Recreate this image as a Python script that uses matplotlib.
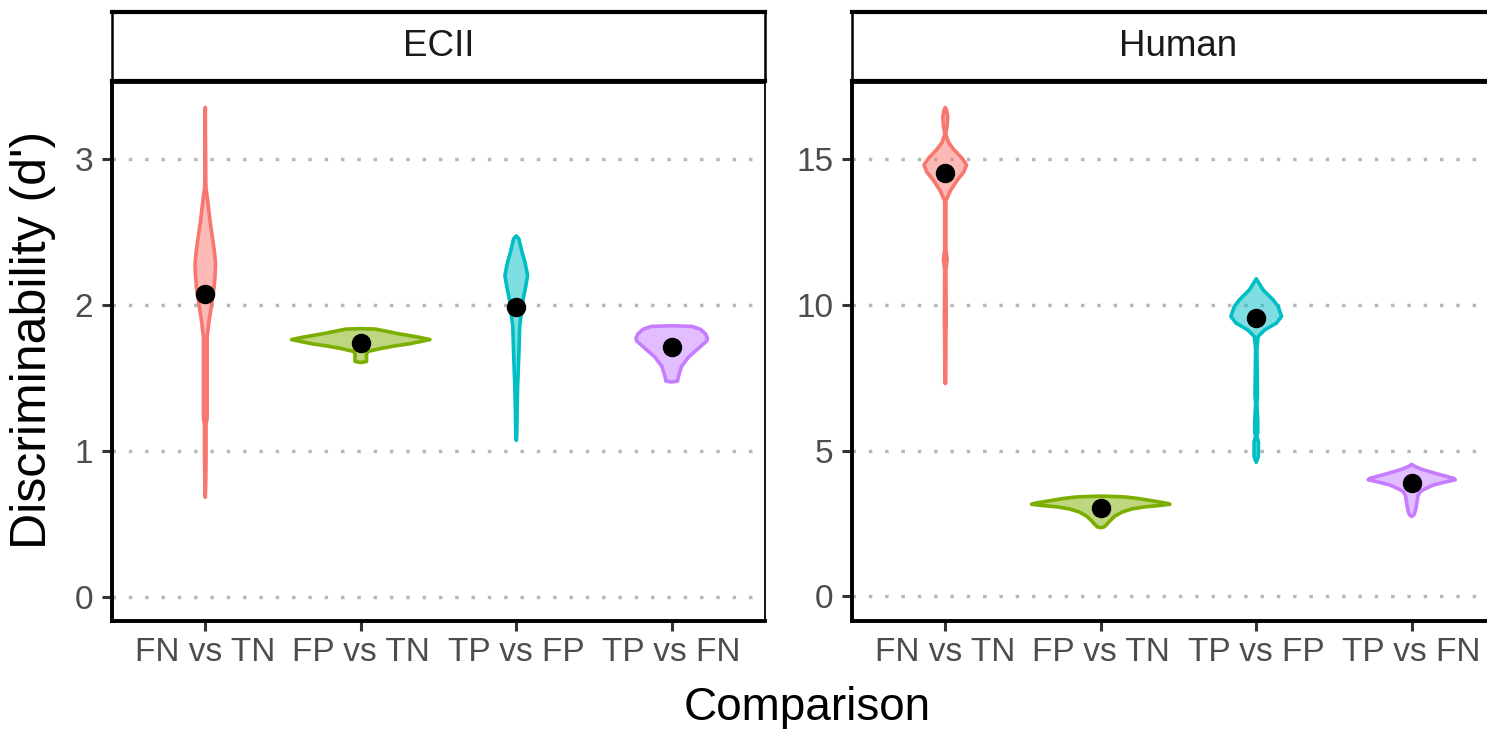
import matplotlib
matplotlib.use("Agg")
import matplotlib.pyplot as plt
import numpy as np

plt.rcParams["font.family"] = ["Liberation Sans", "DejaVu Sans"]

COMPARISONS = ["FN vs TN", "FP vs TN", "TP vs FP", "TP vs FN"]
COLORS = ["#F8766D", "#7CAE00", "#00BFC4", "#C77CFF"]
PANELS = ["ECII", "Human"]

# violin profiles: y values and half-widths (x units)
ecii_fn_y = [3.35, 2.86, 2.80, 2.74, 2.66, 2.56, 2.46, 2.36, 2.28, 2.20, 2.12,
             2.04, 1.96, 1.88, 1.82, 1.78, 1.50, 1.22, 1.18, 0.95, 0.78, 0.68]
ecii_fn_w = [0.0, 0.003, 0.004, 0.012, 0.021, 0.032, 0.046, 0.059, 0.066, 0.063,
             0.057, 0.046, 0.035, 0.023, 0.017, 0.012, 0.012, 0.012, 0.005,
             0.005, 0.003, 0.0]
ecii_fp_y = [1.835, 1.832, 1.80, 1.775, 1.76, 1.745, 1.73, 1.715, 1.70, 1.68,
             1.665, 1.61, 1.603]
ecii_fp_w = [0.0, 0.095, 0.243, 0.38, 0.445, 0.378, 0.307, 0.21, 0.133, 0.05,
             0.037, 0.037, 0.0]
ecii_tpfp_y = [2.47, 2.45, 2.36, 2.29, 2.20, 2.13, 2.03, 1.94, 1.85, 1.67,
               1.55, 1.44, 1.30, 1.09, 1.07]
ecii_tpfp_w = [0.0, 0.017, 0.037, 0.056, 0.073, 0.062, 0.043, 0.033, 0.022,
               0.017, 0.013, 0.009, 0.006, 0.003, 0.0]
ecii_tpfn_y = [1.855, 1.85, 1.83, 1.80, 1.77, 1.75, 1.70, 1.64, 1.575, 1.51,
               1.475, 1.47]
ecii_tpfn_w = [0.0, 0.133, 0.185, 0.217, 0.23, 0.225, 0.172, 0.108, 0.063,
               0.044, 0.037, 0.0]

human_fn_y = [16.76, 16.67, 16.43, 16.14, 15.85, 15.56, 15.32, 15.02, 14.79,
              14.55, 14.26, 13.91, 13.56, 11.9, 11.56, 11.2, 9.4, 9.0, 7.32, 7.3]
human_fn_w = [0.0, 0.008, 0.016, 0.012, 0.003, 0.021, 0.055, 0.108, 0.137,
              0.119, 0.076, 0.033, 0.004, 0.004, 0.012, 0.004, 0.006, 0.004,
              0.003, 0.0]
human_fp_y = [3.44, 3.43, 3.41, 3.36, 3.28, 3.20, 3.16, 3.12, 3.07, 3.00, 2.90,
              2.75, 2.60, 2.45, 2.38, 2.36]
human_fp_w = [0.0, 0.08, 0.16, 0.24, 0.33, 0.42, 0.445, 0.38, 0.28, 0.20, 0.14,
              0.09, 0.06, 0.035, 0.02, 0.0]
human_tpfp_y = [10.89, 10.51, 10.17, 9.94, 9.60, 9.37, 9.14, 8.91, 8.5, 6.9,
                6.6, 5.97, 5.63, 5.5, 5.3, 4.8, 4.6]
human_tpfp_w = [0.0, 0.044, 0.108, 0.141, 0.163, 0.13, 0.055, 0.012, 0.004,
                0.008, 0.004, 0.01, 0.01, 0.004, 0.014, 0.014, 0.0]
human_tpfn_y = [4.53, 4.45, 4.35, 4.27, 4.15, 4.05, 4.00, 3.93, 3.82, 3.70,
                3.60, 3.45, 3.31, 3.10, 2.97, 2.80, 2.74]
human_tpfn_w = [0.0, 0.023, 0.07, 0.12, 0.20, 0.27, 0.28, 0.22, 0.14, 0.09,
                0.055, 0.04, 0.036, 0.03, 0.025, 0.015, 0.0]

ecii_means = [2.07, 1.74, 1.98, 1.71]
human_means = [14.5, 3.02, 9.54, 3.88]

ecii_ticks = [0, 1, 2, 3]
human_ticks = [0, 5, 10, 15]
ecii_ylim = (-0.1675, 3.5175)
human_ylim = (-0.84, 17.6)

panel_data = [
    ([(ecii_fn_y, ecii_fn_w), (ecii_fp_y, ecii_fp_w),
      (ecii_tpfp_y, ecii_tpfp_w), (ecii_tpfn_y, ecii_tpfn_w)],
     ecii_means, ecii_ticks, ecii_ylim),
    ([(human_fn_y, human_fn_w), (human_fp_y, human_fp_w),
      (human_tpfp_y, human_tpfp_w), (human_tpfn_y, human_tpfn_w)],
     human_means, human_ticks, human_ylim),
]

W, H = 1487, 729
fig = plt.figure(figsize=(W / 100, H / 100), dpi=100)

panel_left = [112, 852]
pw = 653
for i, (violins, means, ticks, ylim) in enumerate(panel_data):
    x0 = panel_left[i] / W
    ax = fig.add_axes([x0, 1 - 621 / H, pw / W, (621 - 83) / H])
    for y in ticks:
        ax.axhline(y, color="#B8B8B8", lw=2.5, ls=(0, (1, 3.7)), zorder=0)
    for j, (vy, vw) in enumerate(violins):
        c = j + 1
        vy = np.array(vy)
        vw = np.array(vw)
        ax.fill_betweenx(vy, c - vw, c + vw, facecolor=COLORS[j], alpha=0.5,
                         lw=0, zorder=2)
        ax.fill_betweenx(vy, c - vw, c + vw, facecolor="none",
                         edgecolor=COLORS[j], lw=2.6, zorder=3)
    ax.plot(range(1, 5), means, "o", color="black", ms=13, zorder=4)
    ax.set_xlim(0.4, 4.6)
    ax.set_ylim(*ylim)
    ax.set_xticks(range(1, 5))
    ax.set_xticklabels(COMPARISONS)
    ax.set_yticks(ticks)
    ax.tick_params(axis="both", direction="out", length=7.5, width=2.2,
                   color="#333333", labelcolor="#4D4D4D", labelsize=24)
    ax.tick_params(axis="x", pad=4)
    ax.tick_params(axis="y", pad=6)
    for s in ["left", "bottom"]:
        ax.spines[s].set_linewidth(2.8)
        ax.spines[s].set_color("black")
    for s in ["top", "right"]:
        ax.spines[s].set_linewidth(1.3)
        ax.spines[s].set_color("black")

    # facet strip
    sax = fig.add_axes([x0, 1 - 81 / H, pw / W, 69 / H])
    sax.set_xticks([])
    sax.set_yticks([])
    for s in ["top", "bottom"]:
        sax.spines[s].set_linewidth(3.0)
    for s in ["left", "right"]:
        sax.spines[s].set_linewidth(1.8)
    sax.text(0.5, 0.5, PANELS[i], ha="center", va="center", fontsize=26.5,
             color="#1A1A1A", transform=sax.transAxes)

fig.text(33 / W, 1 - 340 / H, "Discriminability (d')", rotation=90,
         ha="center", va="center", fontsize=36)
fig.text(807 / W, 1 - 720 / H, "Comparison", ha="center", va="baseline",
         fontsize=33)

fig.savefig("out.png", dpi=100)
